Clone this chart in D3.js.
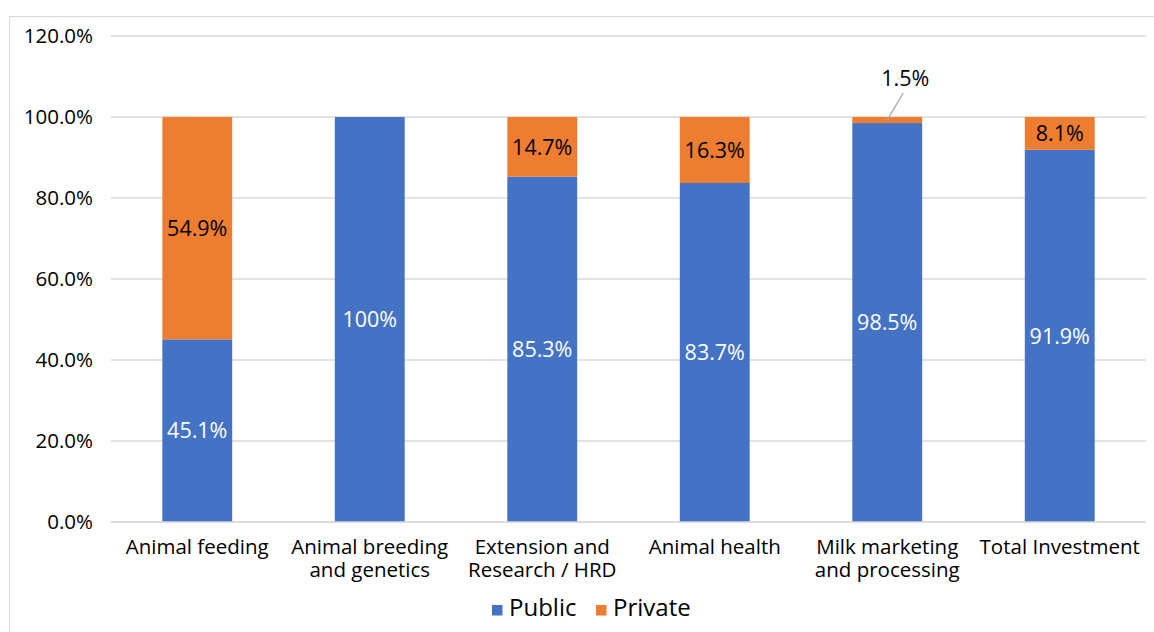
<!DOCTYPE html>
<html><head><meta charset="utf-8">
<script src="https://cdn.jsdelivr.net/npm/d3@7"></script>
<style>body{margin:0;background:#fff}text{font-family:"Open Sans",sans-serif}</style>
</head><body><svg id="c" width="1154" height="632"></svg>
<script>
const categories = [["Animal feeding"],["Animal breeding","and genetics"],["Extension and","Research / HRD"],["Animal health"],["Milk marketing","and processing"],["Total Investment"]];
const publicVals = [45.1, 100, 85.3, 83.7, 98.5, 91.9];
const privateVals = [54.9, 0, 14.7, 16.3, 1.5, 8.1];
const publicLabels = ["45.1%","100%","85.3%","83.7%","98.5%","91.9%"];
const privateLabels = ["54.9%","","14.7%","16.3%","1.5%","8.1%"];
const yTicks = [0,20,40,60,80,100,120];
const seriesNames = ["Public","Private"];
const colors = ["#4472C4","#ED7D31"];

const svg = d3.select("#c");
svg.append("rect").attr("x",9.5).attr("y",16.5).attr("width",1160).attr("height",630).attr("fill","none").attr("stroke","#d9d9d9");
const pL=111, pR=1146, pT=36, pB=522;
const x = d3.scaleBand().domain(d3.range(categories.length)).range([pL,pR]).paddingInner(0.595).paddingOuter(0.2975);
const y = d3.scaleLinear().domain([0,120]).range([pB,pT]);

const grid = svg.append("g");
grid.selectAll("line").data(yTicks).join("line")
  .attr("x1",pL).attr("x2",pR).attr("y1",d=>y(d)).attr("y2",d=>y(d))
  .attr("stroke","#d9d9d9").attr("stroke-width",1.3);

const yAxis = svg.append("g").attr("transform",`translate(${pL},0)`)
  .call(d3.axisLeft(y).tickValues(yTicks).tickFormat(d=>d.toFixed(1)+"%").tickSize(0).tickPadding(18));
yAxis.select(".domain").remove();
yAxis.selectAll("text").attr("font-size",20.5).attr("fill","#000").style("font-family","'Open Sans',sans-serif");

const idx = d3.range(categories.length);
svg.append("g").selectAll("rect").data(idx).join("rect")
  .attr("x",i=>x(i)).attr("width",x.bandwidth())
  .attr("y",i=>y(publicVals[i])).attr("height",i=>y(0)-y(publicVals[i]))
  .attr("fill",colors[0]);
svg.append("g").selectAll("rect").data(idx.filter(i=>privateVals[i]>0)).join("rect")
  .attr("x",i=>x(i)).attr("width",x.bandwidth())
  .attr("y",i=>y(publicVals[i]+privateVals[i])).attr("height",i=>y(publicVals[i])-y(publicVals[i]+privateVals[i]))
  .attr("fill",colors[1]);

svg.append("line").attr("x1",pL).attr("x2",pR).attr("y1",y(0)).attr("y2",y(0)).attr("stroke","#d9d9d9").attr("stroke-width",1.3);

const lab = svg.append("g").attr("font-size",21.5).attr("text-anchor","middle");
idx.forEach(i=>{
  const cx = x(i)+x.bandwidth()/2;
  lab.append("text").attr("x",cx).attr("y",(y(0)+y(publicVals[i]))/2).attr("dy","0.36em").attr("fill","#fff").text(publicLabels[i]);
  if(privateLabels[i]){
    if(privateVals[i] < 5){
      const ty = y(100)-39;
      lab.append("line").attr("x1",cx).attr("y1",y(publicVals[i]+privateVals[i]/2)).attr("x2",cx+16).attr("y2",ty+15).attr("stroke","#a6a6a6").attr("stroke-width",1.3);
      lab.append("text").attr("x",cx+18).attr("y",ty).attr("dy","0.36em").attr("fill","#000").text(privateLabels[i]);
    } else {
      lab.append("text").attr("x",cx).attr("y",(y(publicVals[i])+y(publicVals[i]+privateVals[i]))/2).attr("dy","0.36em").attr("fill","#000").text(privateLabels[i]);
    }
  }
});

const xl = svg.append("g").attr("font-size",20.5).attr("text-anchor","middle").attr("fill","#000");
idx.forEach(i=>{
  categories[i].forEach((ln,k)=>xl.append("text").attr("x",x(i)+x.bandwidth()/2).attr("y",554+k*23).text(ln));
});

const lg = svg.append("g").attr("font-size",24);
const legX = [492,596];
seriesNames.forEach((n,k)=>{
  lg.append("rect").attr("x",legX[k]).attr("y",605).attr("width",10.5).attr("height",10.5).attr("fill",colors[k]);
  lg.append("text").attr("x",legX[k]+17).attr("y",616).text(n);
});
</script></body></html>
